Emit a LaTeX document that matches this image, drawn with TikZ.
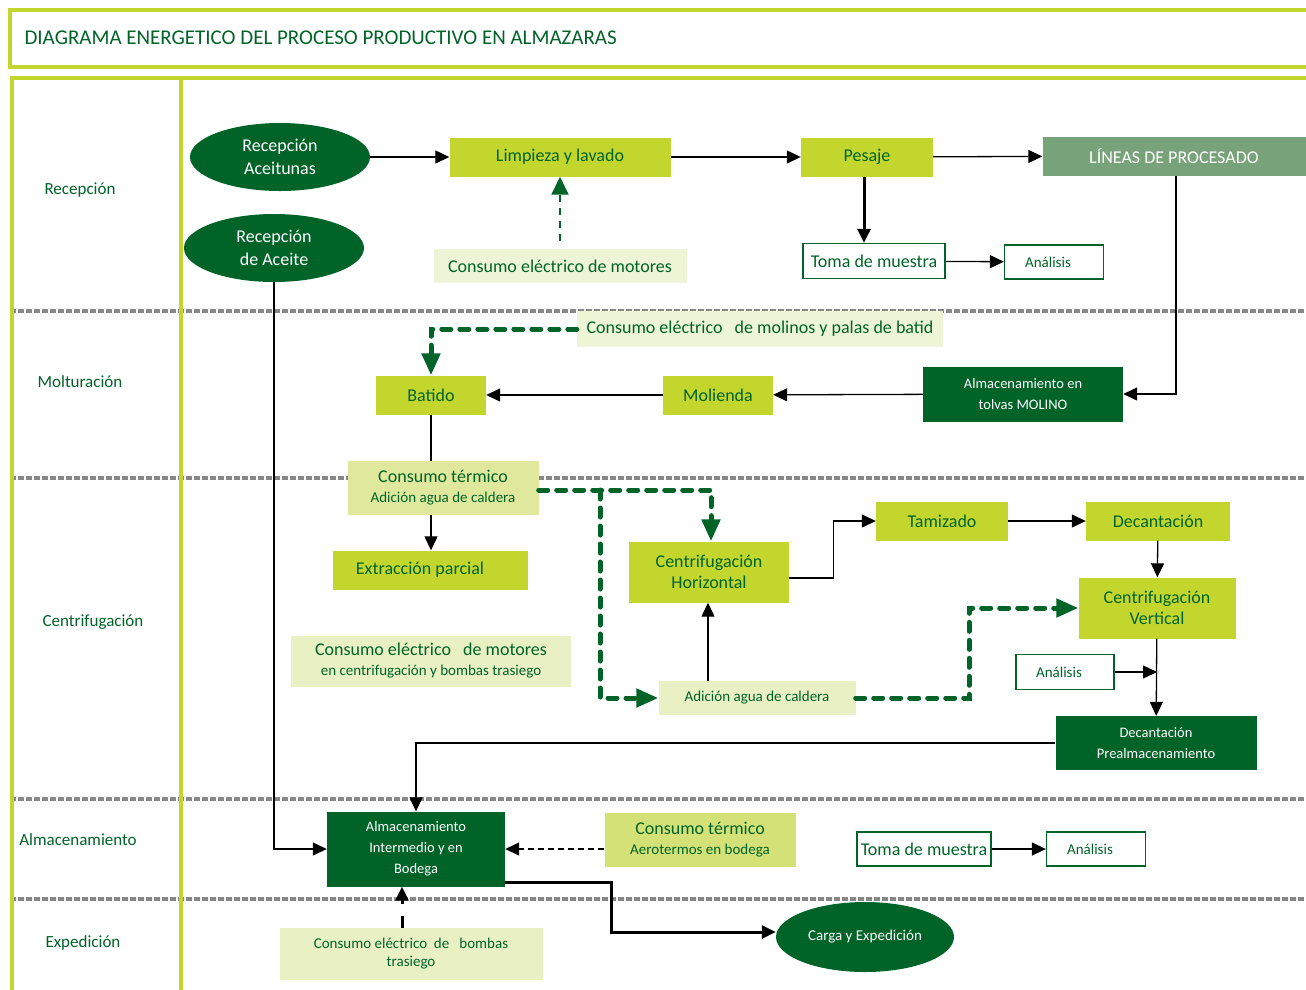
\documentclass[tikz,border=0pt]{standalone}
\usepackage{fontspec}
\setmainfont{Carlito}
\usepackage{tikz}
\usetikzlibrary{arrows.meta,shapes.geometric,calc}
\definecolor{lima}{RGB}{194,214,46}
\definecolor{oscuro}{RGB}{0,100,40}
\definecolor{palido}{RGB}{238,245,214}
\definecolor{palidob}{RGB}{232,240,196}
\definecolor{termico}{RGB}{223,232,156}
\definecolor{termicob}{RGB}{211,225,118}
\definecolor{lineasc}{RGB}{120,163,122}
\definecolor{gris}{RGB}{135,135,135}
\begin{document}
\begin{tikzpicture}[x=1pt,y=-1pt,
  caja/.style={inner sep=0pt, align=center, text=oscuro, font=\fontsize{18}{21}\selectfont},
  paso/.style={caja, fill=lima, minimum height=39pt},
  oscura/.style={caja, fill=oscuro, text=white, font=\fontsize{14.5}{21}\selectfont},
  elipse/.style={ellipse, fill=oscuro, text=white, inner sep=0pt, align=center,
    minimum width=180pt, minimum height=68pt, font=\fontsize{18}{23}\selectfont},
  consumo/.style={caja, fill=palido},
  marco/.style={caja, draw=oscuro, line width=1.3pt, fill=white},
  rotulo/.style={text=oscuro, font=\fontsize{17}{20}\selectfont},
  flecha/.style={-{Triangle[length=14pt,width=13pt]}, line width=1.3pt},
  energia/.style={draw=oscuro, line width=5pt, line cap=round, dash pattern=on 9pt off 9pt,
    -{Triangle[length=22pt,width=18pt]}},
  punteada/.style={draw=oscuro, line width=2pt, dash pattern=on 7pt off 6pt,
    -{Triangle[length=18pt,width=17pt]}},
  chico/.style={font=\fontsize{15}{18}\selectfont}]
\clip (0,0) rectangle (1306,989);
\fill[white] (0,0) rectangle (1306,989);
\foreach \y in {311,478,799,899}
  \draw[gris, line width=4pt, dash pattern=on 6pt off 2pt] (10,\y) -- (1306,\y);
\draw[lima, line width=4pt] (10,10) rectangle (1330,67);
\draw[lima, line width=4pt] (12,1000) |- (1330,78);
\draw[lima, line width=4pt] (181,78) -- (181,1000);
\node[anchor=west, text=oscuro, font=\fontsize{21}{25}\selectfont] (titulo) at (21,38)
  {DIAGRAMA ENERGETICO DEL PROCESO PRODUCTIVO EN ALMAZARAS};

\node[rotulo] (recepcion) at (80,190) {Recepción};
\node[rotulo] (molturacion) at (80,382) {Molturación};
\node[rotulo] (centrifugacion) at (93,622) {Centrifugación};
\node[rotulo] (almacenamiento) at (78,840) {Almacenamiento};
\node[rotulo] (expedicion) at (83,943) {Expedición};

\node[elipse] (aceitunas) at (280,157) {Recepción\\Aceitunas};
\node[elipse] (aceite) at (274,248) {Recepción\\de Aceite};
\node[paso, minimum width=221pt] (limpieza) at (560,157) {Limpieza y lavado};
\node[paso, minimum width=132pt] (pesaje) at (867,157) {Pesaje};
\node[caja, fill=lineasc, text=white, minimum width=263pt, minimum height=39pt] (lineas) at (1174,156) {LÍNEAS DE PROCESADO};
\node[consumo, minimum width=253pt, minimum height=34pt] (cmotores) at (560,266) {Consumo eléctrico de motores};
\node[marco, minimum width=142pt, minimum height=35pt] (tomaa) at (874,261) {Toma de muestra};
\node[marco, chico, minimum width=99pt, minimum height=34pt] (analisisa) at (1054,262) {Análisis\hspace*{12pt}};

\node[consumo, minimum width=366pt, minimum height=36pt] (cmolinos) at (760,329) {Consumo eléctrico\ \ \ de molinos y palas de batid};
\node[paso, minimum width=110pt] (batido) at (431,395) {Batido};
\node[paso, minimum width=110pt] (molienda) at (718,395) {Molienda};
\node[oscura, minimum width=200pt, minimum height=55pt] (tolvas) at (1023,394) {Almacenamiento en\\tolvas MOLINO};

\node[consumo, fill=termico, minimum width=191pt, minimum height=54pt] (ctermico) at (443,488)
  {Consumo térmico\\[-1pt]{\fontsize{15}{18}\selectfont Adición agua de caldera}};
\node[paso, minimum width=195pt] (extraccion) at (430,570) {Extracción parcial\hspace*{20pt}};
\node[paso, minimum width=160pt, minimum height=61pt] (horizontal) at (709,572) {Centrifugación\\Horizontal};
\node[paso, minimum width=132pt] (tamizado) at (942,521) {Tamizado};
\node[paso, minimum width=144pt] (decantacion) at (1158,521) {Decantación};
\node[paso, minimum width=157pt, minimum height=61pt] (vertical) at (1157,608) {Centrifugación\\Vertical};
\node[marco, chico, minimum width=98pt, minimum height=35pt] (analisisb) at (1065,672) {Análisis\hspace*{12pt}};
\node[oscura, minimum width=201pt, minimum height=54pt] (prealm) at (1156,743) {Decantación\\Prealmacenamiento};
\node[consumo, fill=palidob, minimum width=280pt, minimum height=51pt] (ccentrif) at (431,661)
  {Consumo eléctrico\ \ \ de motores\\[-1pt]{\fontsize{15}{18}\selectfont en centrifugación y bombas trasiego}};
\node[consumo, fill=palidob, chico, minimum width=197pt, minimum height=34pt] (agua) at (757,698) {Adición agua de caldera};

\node[oscura, minimum width=178pt, minimum height=75pt] (bodega) at (416,849) {Almacenamiento\\Intermedio y en\\Bodega};
\node[consumo, fill=termicob, minimum width=191pt, minimum height=54pt] (aerotermos) at (700,840)
  {Consumo térmico\\[-1pt]{\fontsize{15}{18}\selectfont Aerotermos en bodega}};
\node[marco, minimum width=134pt, minimum height=34pt] (tomab) at (924,849) {Toma de muestra};
\node[marco, chico, minimum width=99pt, minimum height=34pt] (analisisc) at (1096,849) {Análisis\hspace*{12pt}};
\node[consumo, fill=palidob, chico, minimum width=263pt, minimum height=52pt] (cbombas) at (411,954)
  {Consumo eléctrico\ \ de\ \ \ bombas\\trasiego};
\node[elipse, minimum width=178pt, minimum height=70pt, font=\fontsize{15}{18}\selectfont] (carga) at (865,937) {Carga y Expedición};

\draw[flecha] (aceitunas) -- (limpieza);
\draw[flecha] (limpieza) -- (pesaje);
\draw[flecha] (pesaje) -- (lineas);
\draw[punteada, shorten <=8pt] (cmotores) -- (limpieza);
\draw[flecha, line width=3pt] ([xshift=-3pt]pesaje.south) -- ([xshift=-3pt]pesaje.south |- tomaa.north);
\draw[flecha] (tomaa) -- (analisisa);
\draw[flecha] ([xshift=2pt]lineas.south) |- (tolvas.east);
\draw[flecha] (tolvas) -- (molienda);
\draw[flecha] (molienda) -- (batido);
\draw[energia] (cmolinos.west) -| (batido.north);
\draw[line width=1.3pt] (batido.south) -- (batido.south |- ctermico.north);
\draw[flecha] (batido.south |- ctermico.south) -- (batido.south |- extraccion.north);
\coordinate (rama) at (600,490);
\coordinate (giro) at (969,698);
\draw[energia] ([yshift=-2pt]ctermico.east) -| ([xshift=2pt]horizontal.north);
\draw[energia] (rama) |- (agua.west);
\draw[flecha] ([xshift=-1pt]horizontal.south |- agua.north) -- ([xshift=-1pt]horizontal.south);
\draw[energia] (agua.east) -- (giro) |- (vertical.west);
\draw[flecha] ([yshift=-6pt]horizontal.east) -- ++(44,0) |- (tamizado.west);
\draw[flecha] (tamizado) -- (decantacion);
\draw[flecha] (decantacion) -- (vertical);
\draw[flecha] (vertical) -- (prealm);
\draw[flecha] (analisisb.east) -- (analisisb.east -| vertical.south);
\draw[flecha] (prealm.west) -| (bodega.north);
\draw[flecha] (aceite.south) |- (bodega.west);
\draw[flecha, dash pattern=on 6pt off 4pt] (aerotermos.west |- bodega.east) -- (bodega.east);
\draw[flecha] (tomab) -- (analisisc);
\draw[flecha, line width=3pt, dash pattern=on 12pt off 12pt] ([xshift=-9pt]cbombas.north) -- ([xshift=-9pt]cbombas.north |- bodega.south);
\draw[flecha, line width=3pt] ([yshift=4pt]bodega.south east) -- ++(106,0) |- ([yshift=5pt]carga.west);
\end{tikzpicture}
\end{document}
